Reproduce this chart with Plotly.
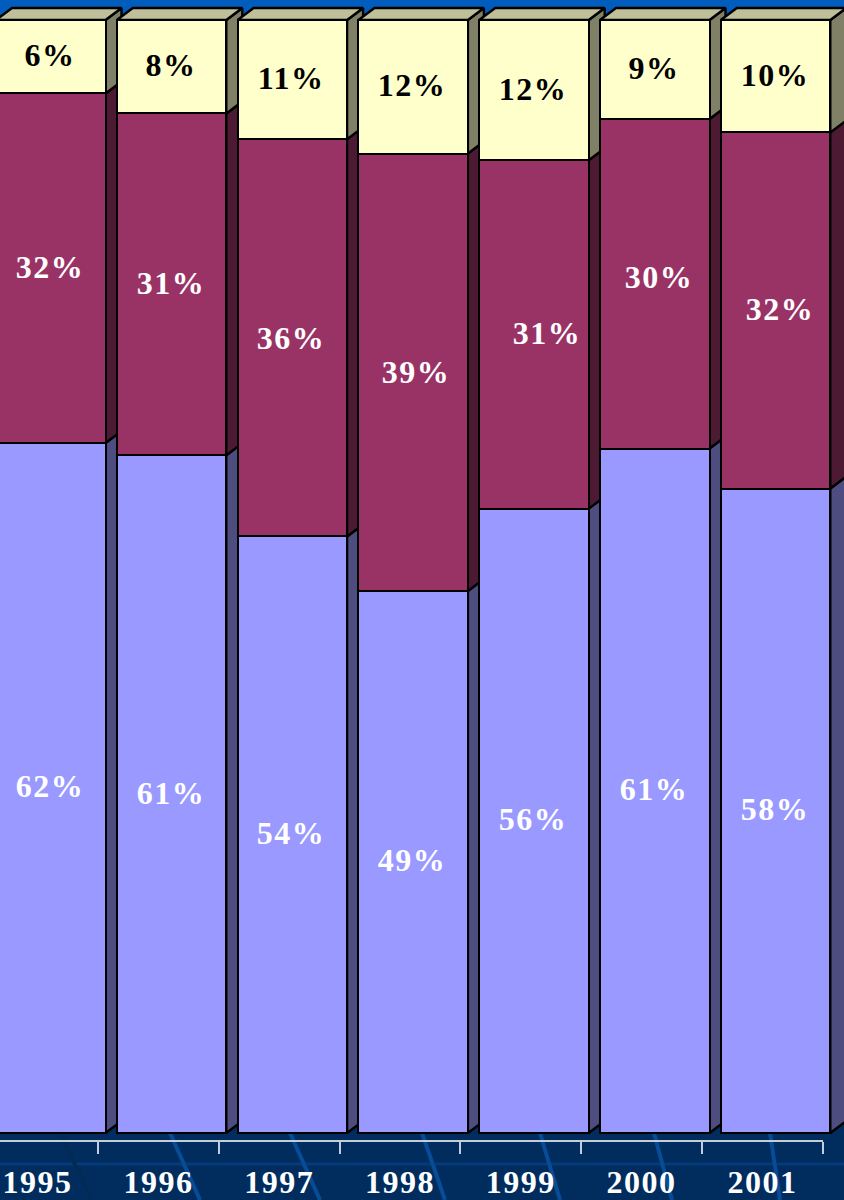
import plotly.graph_objects as go

years = [1995, 1996, 1997, 1998, 1999, 2000, 2001]
bottom_values = [62.0, 60.9, 53.6, 48.7, 56.1, 61.5, 57.9]
middle_values = [31.4, 30.7, 35.7, 39.3, 31.3, 29.6, 32.0]
top_values = [6.6, 8.4, 10.7, 12.0, 12.6, 8.9, 10.1]
bottom_labels = ["62%", "61%", "54%", "49%", "56%", "61%", "58%"]
middle_labels = ["32%", "31%", "36%", "39%", "31%", "30%", "32%"]
top_labels = ["6%", "8%", "11%", "12%", "12%", "9%", "10%"]

W, H = 844, 1200
PITCH = 120.8            # px per year
X0_PX = 37.6             # pixel of 1995
BASE_PX, FULL_PX = 1133, 20
PCT = (BASE_PX - FULL_PX) / 100.0
DX = 16 / PITCH
DY = 12 / PCT
BAR_W = 109.5 / PITCH
BAR_OFF = -41.6 / PITCH
CENTER = BAR_OFF + BAR_W / 2
FONT = "Liberation Serif, Times New Roman, serif"
EDGE = 2.4

x_range = [1995 - X0_PX / PITCH, 1995 + (W - X0_PX) / PITCH]
y_range = [(BASE_PX - H) / PCT, BASE_PX / PCT]

series = [
    (bottom_values, bottom_labels, "#9999FF", "#4D4D80", "white"),
    (middle_values, middle_labels, "#993366", "#4D1A33", "white"),
    (top_values, top_labels, "#FFFFCC", "#808066", "black"),
]
top_face = "#BFBF99"
label_nudge_x = {(1998, 1): 4, (1999, 1): 14, (2000, 1): 5, (2001, 1): 5}
label_nudge_y = {(1997, 1): -2, (1998, 1): -1, (2000, 1): 5}

fig = go.Figure()

# Side faces
for k, (vals, _, _, side, _) in enumerate(series):
    sx, sy = [], []
    for i, yr in enumerate(years):
        lo = sum(series[j][0][i] for j in range(k))
        hi = lo + vals[i]
        r = yr + BAR_OFF + BAR_W
        sx += [r, r + DX, r + DX, r, r, None]
        sy += [lo, lo + DY, hi + DY, hi, lo, None]
    fig.add_trace(go.Scatter(x=sx, y=sy, mode="lines", fill="toself", fillcolor=side,
                             line=dict(color="black", width=EDGE), hoverinfo="skip", showlegend=False))

# Top faces
tx, ty = [], []
for i, yr in enumerate(years):
    total = sum(s[0][i] for s in series)
    l, r = yr + BAR_OFF, yr + BAR_OFF + BAR_W
    tx += [l, l + DX, r + DX, r, l, None]
    ty += [total, total + DY, total + DY, total, total, None]
fig.add_trace(go.Scatter(x=tx, y=ty, mode="lines", fill="toself", fillcolor=top_face,
                         line=dict(color="black", width=EDGE), hoverinfo="skip", showlegend=False))

# Front faces, on an overlaying pair of axes so they cover the side faces
for vals, _, front, _, _ in series:
    fig.add_trace(go.Bar(x=years, y=vals, xaxis="x2", yaxis="y2", width=BAR_W, offset=BAR_OFF,
                         marker=dict(color=front, line=dict(color="black", width=EDGE)),
                         hoverinfo="skip", showlegend=False))

# Invisible trace that brings up the tick axis
fig.add_trace(go.Scatter(x=years, y=[0] * len(years), xaxis="x3", yaxis="y", mode="markers",
                         marker=dict(opacity=0), hoverinfo="skip", showlegend=False))

# Value labels
annotations = []
for k, (vals, labels, _, _, color) in enumerate(series):
    for i, yr in enumerate(years):
        lo = sum(series[j][0][i] for j in range(k))
        annotations.append(dict(
            x=yr + CENTER, y=lo + vals[i] / 2, xref="x", yref="y", text=labels[i], showarrow=False,
            xshift=-1 + label_nudge_x.get((yr, k), 0), yshift=1.5 + label_nudge_y.get((yr, k), 0),
            font=dict(family=FONT, size=32, color=color, weight=700)))

# Background decoration
shapes = [dict(type="rect", xref="paper", yref="paper", x0=0, x1=1, y0=1 - 40 / H, y1=1,
               fillcolor="#005CBD", line_width=0, layer="below"),
          dict(type="line", xref="paper", yref="paper", x0=0, x1=1, y0=1 - 1164 / H, y1=1 - 1164 / H,
               line=dict(color="#053B7A", width=3), layer="below")]
for a, b in [(170, 200), (290, 320), (422, 445), (540, 560), (654, 672), (770, 780)]:
    shapes.append(dict(type="line", xref="paper", yref="paper", x0=a / W, x1=b / W,
                       y0=1 - 1133 / H, y1=0, line=dict(color="#074C97", width=4), layer="below"))
shapes.append(dict(type="line", xref="paper", yref="paper", x0=60 / W, x1=92 / W,
                   y0=1 - 1133 / H, y1=0, line=dict(color="#022A57", width=4), layer="below"))

fig.update_layout(
    width=W, height=H, margin=dict(l=0, r=0, t=0, b=0, autoexpand=False),
    paper_bgcolor="#002D5E", plot_bgcolor="rgba(0,0,0,0)",
    barmode="stack", bargap=0, showlegend=False,
    shapes=shapes, annotations=annotations,
    xaxis=dict(range=x_range, domain=[0, 1], visible=False, fixedrange=True),
    yaxis=dict(range=y_range, domain=[0, 1], visible=False, fixedrange=True),
    xaxis2=dict(range=x_range, domain=[0, 1], visible=False, overlaying="x", fixedrange=True),
    yaxis2=dict(range=y_range, domain=[0, 1], visible=False, overlaying="y", fixedrange=True),
    xaxis3=dict(range=[x_range[0], 1995 + (823 - X0_PX) / PITCH], domain=[0, 823 / W],
                anchor="free", position=1 - 1141 / H, side="bottom",
                tickmode="array", tickvals=years, ticktext=[str(y) for y in years],
                showgrid=False, zeroline=False, fixedrange=True, automargin=False,
                showline=True, linecolor="#C4CEDB", linewidth=1.5,
                ticks="", ticklabelstandoff=13,
                tickfont=dict(family=FONT, size=32, color="white", weight=700),
                minor=dict(ticks="outside", tickmode="linear", tick0=1995.5, dtick=1,
                           ticklen=12, tickwidth=1.5, tickcolor="#C4CEDB", showgrid=False)),
)

spacing_js = """
document.body.style.margin='0';
document.querySelectorAll('.annotation-text, .x3tick text').forEach(function(t){
  t.style.letterSpacing='1.5px';
});
"""
fig.write_html("out.html", config={"displayModeBar": False}, post_script=spacing_js)
